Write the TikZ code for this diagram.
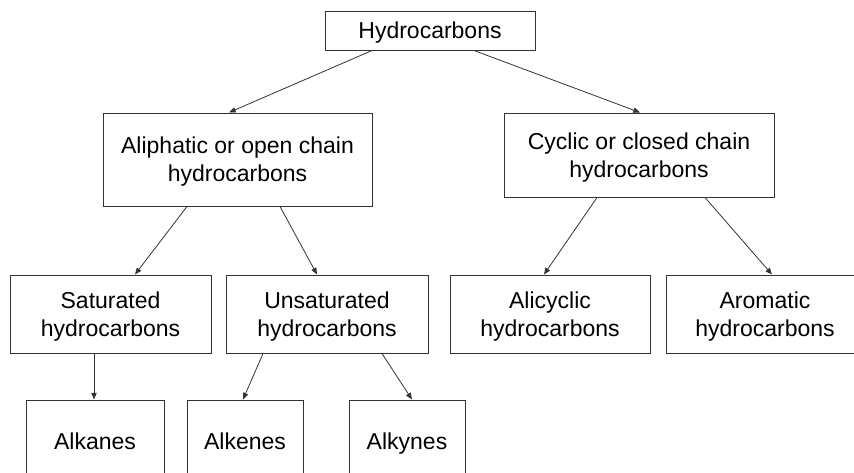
\documentclass[tikz,border=0pt]{standalone}
\usepackage{fontspec}
\setmainfont{Liberation Sans}
\usetikzlibrary{arrows.meta,calc}

\begin{document}
\begin{tikzpicture}[x=0.75pt,y=0.75pt,yscale=-1,xscale=1,
  box/.style={draw=black!80, line width=0.75pt, align=center, inner sep=0pt,
    text depth=0pt, font=\fontsize{17.25}{21}\selectfont},
  link/.style={draw=black!80, line width=0.6pt, -{Triangle[length=5pt,width=4pt]}}]
\useasboundingbox (0,0) rectangle (854,472);
\clip (0,0) rectangle (854,472);

% Text Node
\node[box, minimum width=157.5pt, minimum height=29.25pt] (hc) at (430,30.5) {Hydrocarbons};
% Text Node
\node[box, minimum width=201.75pt, minimum height=69.75pt] (ali) at (237.5,159.5) {Aliphatic or open chain\\hydrocarbons};
% Text Node
\node[box, minimum width=202.5pt, minimum height=63pt] (cyc) at (639,155) {Cyclic or closed chain\\hydrocarbons};
% Text Node
\node[box, minimum width=150.75pt, minimum height=58.5pt] (sat) at (110.5,314) {Saturated\\hydrocarbons};
% Text Node
\node[box, minimum width=151.5pt, minimum height=58.5pt] (uns) at (327,314) {Unsaturated\\hydrocarbons};
% Text Node
\node[box, minimum width=150pt, minimum height=58.5pt] (alc) at (550,314) {Alicyclic\\hydrocarbons};
% Text Node
\node[box, minimum width=148.5pt, minimum height=58.5pt] (aro) at (765,314) {Aromatic\\hydrocarbons};
% Text Node
\node[box, minimum width=103.5pt, minimum height=61.5pt] (alk) at (95,441) {Alkanes};
% Text Node
\node[box, minimum width=87pt, minimum height=61.5pt] (ake) at (245,441) {Alkenes};
% Text Node
\node[box, minimum width=87pt, minimum height=61.5pt] (aky) at (407,441) {Alkynes};

%Arrows
\draw[link] ($(hc.south)+(-58,0)$) -- ($(ali.north)+(-8.5,0)$);
\draw[link] ($(hc.south)+(44,0)$) -- ($(cyc.north)+(1,0)$);
\draw[link] ($(ali.south)+(-50.5,0)$) -- ($(sat.north)+(24.5,0)$);
\draw[link] ($(ali.south)+(42.5,0)$) -- ($(uns.north)+(-10,0)$);
\draw[link] ($(cyc.south)+(-42,0)$) -- ($(alc.north)+(-6,0)$);
\draw[link] ($(cyc.south)+(66,0)$) -- ($(aro.north)+(7,0)$);
\draw[link] ($(sat.south)+(-16.5,0)$) -- ($(alk.north)+(-1,0)$);
\draw[link] ($(uns.south)+(-64,0)$) -- ($(ake.north)+(-2,0)$);
\draw[link] ($(uns.south)+(55,0)$) -- ($(aky.north)+(5,0)$);

\end{tikzpicture}
\end{document}
